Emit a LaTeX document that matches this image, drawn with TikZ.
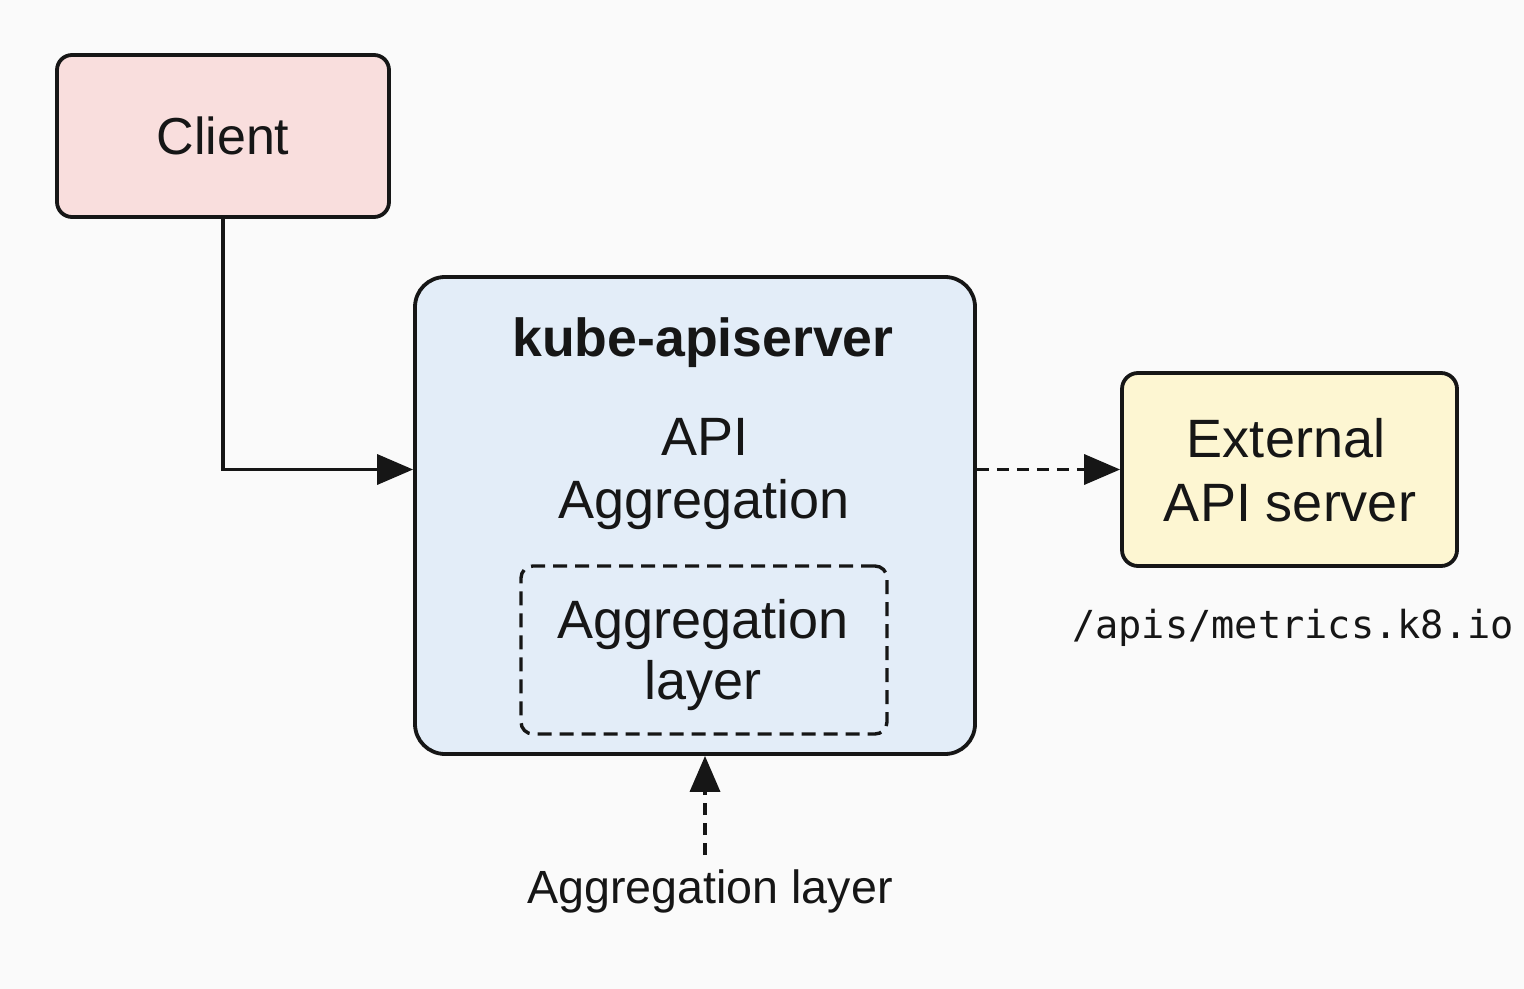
\documentclass[tikz,border=0pt]{standalone}
\usepackage{fontspec}
\setmainfont{Liberation Sans}
\newfontfamily\monofont{DejaVu Sans Mono}
\usetikzlibrary{arrows.meta}
\definecolor{bgc}{RGB}{250,250,250}
\definecolor{clientfill}{RGB}{249,222,221}
\definecolor{mainfill}{RGB}{227,237,248}
\definecolor{extfill}{RGB}{253,246,210}
\definecolor{ink}{RGB}{22,22,22}
\tikzset{
  box/.style={draw=ink, line width=1.9pt, inner sep=0pt, align=center},
  lbl/.style={anchor=base, inner sep=0pt, text=ink, font=\fontsize{27}{31.5}\selectfont},
  conn/.style={draw=ink, line width=1.8pt, -{Triangle[length=18pt,width=15pt]}},
  dconn/.style={conn, dash pattern=on 6pt off 4pt},
}
\begin{document}
\begin{tikzpicture}[x=0.5pt,y=-0.5pt]
\fill[bgc] (0,0) rectangle (1524,989);
\useasboundingbox (0,0) rectangle (1524,989);

\node[box, fill=clientfill, rounded corners=7.5pt, minimum width=166pt, minimum height=81pt,
      font=\fontsize{26}{31.5}\selectfont, text=ink] (client) at (223,136) {Client};

\node[box, fill=mainfill, rounded corners=15pt, minimum width=280pt, minimum height=238.5pt] (main) at (695,515.5) {};

\node[box, line width=1.7pt, dash pattern=on 7pt off 4pt, rounded corners=6pt, minimum width=183pt, minimum height=84pt] (inner) at (704,650) {};

\node[box, fill=extfill, rounded corners=8pt, minimum width=167.5pt, minimum height=96.5pt] (ext) at (1289.5,469.5) {};

\node[lbl, font=\fontsize{26.8}{32}\selectfont\bfseries] (title) at (703,357) {kube-apiserver};
\node[lbl] (api1) at (705,455) {API};
\node[lbl] (api2) at (704,518) {Aggregation};
\node[lbl] (in1) at (703,638) {Aggregation};
\node[lbl] (in2) at (703,699) {layer};
\node[lbl] (ext1) at (1286,457) {External};
\node[lbl] (ext2) at (1290,521) {API server};
\node[lbl, font=\fontsize{19.3}{23}\monofont] (path) at (1293,638) {/apis/metrics.k8.io};
\node[lbl, font=\fontsize{23.3}{28}\selectfont] (bottom) at (710,903) {Aggregation layer};

\coordinate (upstart) at (705,855);

\draw[conn] (client.south) |- (main.west |- ext.west);
\draw[dconn] (main.east |- ext.west) -- (ext.west);
\draw[dconn] (upstart) -- (main.south -| upstart);
\end{tikzpicture}
\end{document}
